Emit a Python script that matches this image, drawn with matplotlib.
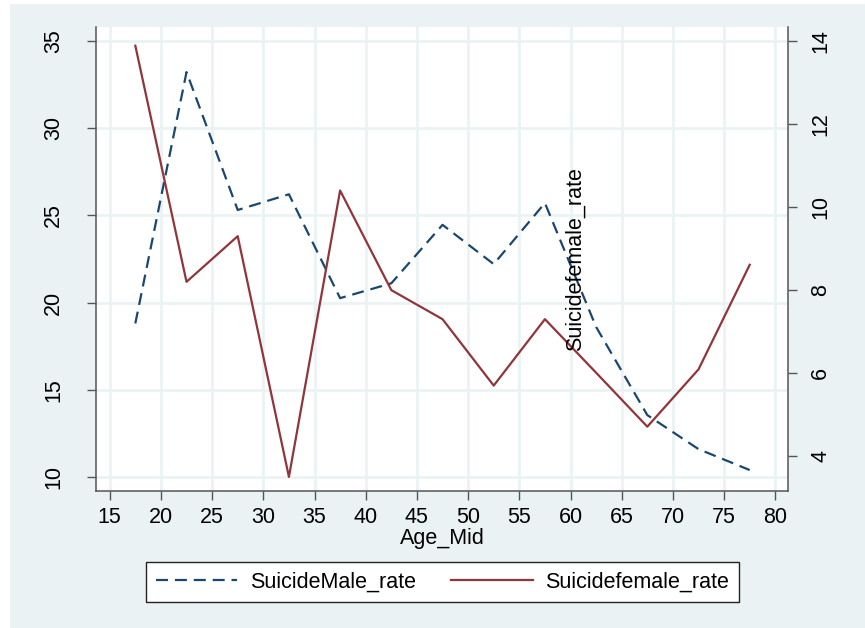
import matplotlib
matplotlib.use("Agg")
import matplotlib.pyplot as plt
from matplotlib.patches import Rectangle

# data (age group midpoints)
age_mid = [17.5, 22.5, 27.5, 32.5, 37.5, 42.5, 47.5, 52.5, 57.5, 62.5, 67.5, 72.5, 77.5]
male_rate = [18.8, 33.2, 25.3, 26.2, 20.25, 21.1, 24.45, 22.2, 25.7, 18.6, 13.55, 11.6, 10.4]
female_rate = [13.88, 8.19, 9.29, 3.49, 10.39, 7.99, 7.29, 5.69, 7.29, 6.0, 4.7, 6.08, 8.6]

x_ticks = list(range(15, 85, 5))
left_ticks = [10, 15, 20, 25, 30, 35]
right_ticks = [4, 6, 8, 10, 12, 14]

navy = '#1a476f'
maroon = '#90353b'
bg = '#eaf2f3'
axis_col = '#555555'

plt.rcParams['font.family'] = ['Liberation Sans', 'DejaVu Sans']
plt.rcParams['font.size'] = 15.5

fig = plt.figure(figsize=(8.65, 6.28), dpi=100)
fig.patch.set_facecolor('white')
# stata style outer region (slightly inset at left/top)
fig.patches.append(Rectangle((10 / 865, 0), 1 - 10 / 865, 624 / 628,
                             transform=fig.transFigure, facecolor=bg,
                             edgecolor='none', zorder=-5))

ax = fig.add_axes([96 / 865, 1 - 491 / 628, 692 / 865, 464 / 628])
ax.set_facecolor('white')
ax2 = ax.twinx()

l1, = ax.plot(age_mid, male_rate, color=navy, lw=1.6,
              linestyle=(0, (5.4, 3.1)), label='SuicideMale_rate')
l2, = ax2.plot(age_mid, female_rate, color=maroon, lw=1.6,
               label='Suicidefemale_rate')

ax.set_xlim(13.66, 81.24)
ax.set_ylim(9.2, 35.785)
ax2.set_ylim(3.15, 14.33)

ax.set_xticks(x_ticks)
ax.set_yticks(left_ticks)
ax2.set_yticks(right_ticks)

ax.grid(True, color=bg, lw=1.9)
ax.set_axisbelow(True)

for a in (ax, ax2):
    a.spines['top'].set_visible(False)
    for s in a.spines.values():
        s.set_color(axis_col)
        s.set_linewidth(1.1)
ax.spines['right'].set_visible(False)
ax2.spines['left'].set_visible(False)
ax2.spines['bottom'].set_visible(False)

ax.tick_params(axis='x', direction='out', length=6.5, width=1, color=axis_col, pad=5)
ax.tick_params(axis='y', direction='out', length=6.5, width=1, color=axis_col, pad=16.5)
ax2.tick_params(axis='y', direction='out', length=6.5, width=1, color=axis_col, pad=9.5)
for lab in ax.get_yticklabels():
    lab.set_rotation(90)
    lab.set_va('center')
for lab in ax2.get_yticklabels():
    lab.set_rotation(90)
    lab.set_va('center')

ax.set_xlabel('Age_Mid', labelpad=0)
ax2.text(0.692, 0.5, 'Suicidefemale_rate', transform=ax2.transAxes,
         rotation=90, ha='center', va='center')

leg = fig.legend([l1, l2], ['SuicideMale_rate', 'Suicidefemale_rate'],
                 loc='center', bbox_to_anchor=(442.5 / 865, 1 - 582 / 628),
                 ncol=2, frameon=True, fancybox=False, framealpha=1,
                 handlelength=3.8, handletextpad=0.6, columnspacing=1.6,
                 borderpad=0.45)
leg.get_frame().set_edgecolor('#222222')
leg.get_frame().set_linewidth(1.0)
leg.get_frame().set_facecolor('white')

fig.savefig('out.png', dpi=100, facecolor=fig.get_facecolor())
